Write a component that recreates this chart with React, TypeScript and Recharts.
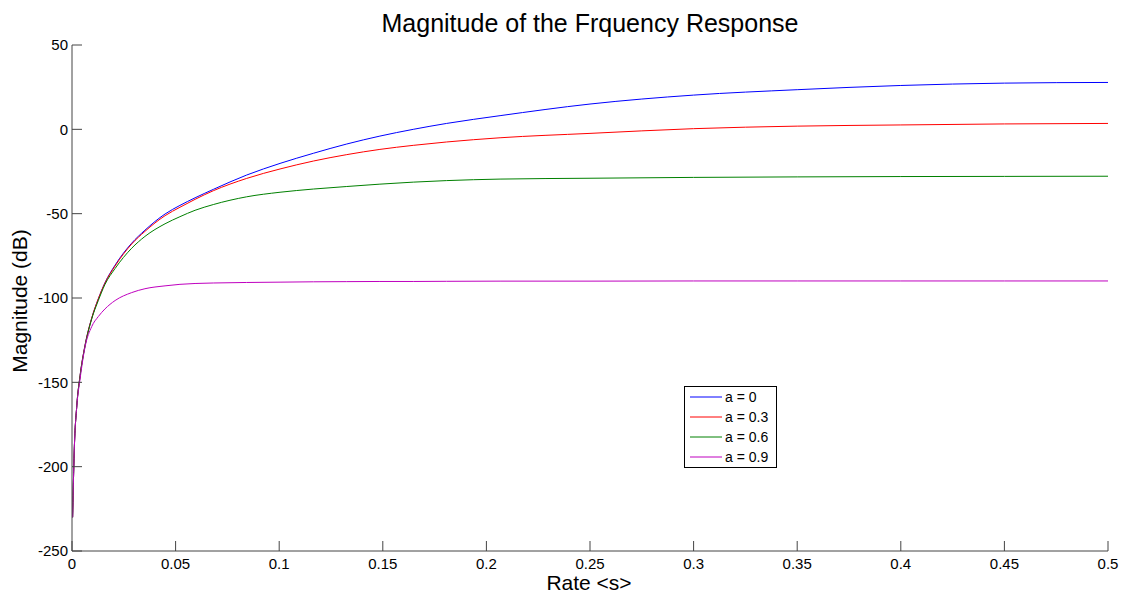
import { LineChart, Line, XAxis, YAxis, Legend } from "recharts";

const FONT = '"Liberation Sans", Arial, Helvetica, sans-serif';

// rate <s> samples
const rate = [
  0.0003, 0.0006, 0.0011, 0.0023, 0.0039, 0.0063, 0.0095, 0.0127, 0.0159, 0.0208,
  0.0288, 0.0352, 0.0449, 0.0521, 0.0594, 0.0682, 0.0843, 0.1004, 0.1165, 0.1326,
  0.1486, 0.1647, 0.1808, 0.2066, 0.25, 0.3, 0.35, 0.4, 0.45, 0.5,
];

// magnitude in dB for each a
const magA0 = [
  -230, -213, -190, -164, -146, -128, -112, -100.5, -91, -80.5,
  -67.5, -59.8, -50.2, -45.1, -40.6, -35.6, -27.1, -20.2, -14.2, -8.7,
  -4, 0, 3.5, 8.1, 15.0, 20.3, 23.5, 26.0, 27.4, 27.8,
];
const magA3 = [
  -230, -213, -190, -164, -146, -128, -112, -100.5, -91.2, -81,
  -68, -60.5, -51.2, -46.2, -41.5, -36.4, -29.1, -23.5, -18.8, -15,
  -11.9, -9.5, -7.5, -5, -2.4, 0.4, 1.9, 2.6, 3.2, 3.5,
];
const magA6 = [
  -230, -213, -190, -164, -146.5, -128.5, -112.5, -101.5, -92, -82.5,
  -70.5, -63.5, -56, -51.8, -48, -44.6, -40, -37.3, -35.4, -33.9,
  -32.5, -31.3, -30.4, -29.5, -29, -28.5, -28.2, -28, -27.9, -27.8,
];
const magA9 = [
  -230, -213, -190, -164.5, -148, -129, -117, -111, -106.5, -101.5,
  -96.8, -94.5, -92.8, -91.9, -91.4, -91.1, -90.8, -90.6, -90.4, -90.3,
  -90.2, -90.2, -90.1, -90, -90, -89.9, -89.9, -89.9, -89.9, -89.9,
];

const seriesNames = ["a = 0", "a = 0.3", "a = 0.6", "a = 0.9"];
const seriesColors = ["#0000ff", "#ff0000", "#008000", "#bf00bf"];
const seriesKeys = ["a0", "a3", "a6", "a9"];

const xTicks = [0, 0.05, 0.1, 0.15, 0.2, 0.25, 0.3, 0.35, 0.4, 0.45, 0.5];
const yTicks = [-250, -200, -150, -100, -50, 0, 50];

const data = rate.map((r, i) => ({
  rate: r,
  a0: magA0[i],
  a3: magA3[i],
  a6: magA6[i],
  a9: magA9[i],
}));

const AXIS = "#444";

function YTick(props: any) {
  const { x, y, payload } = props;
  return (
    <g>
      <line x1={x} x2={x + 10} y1={y} y2={y} stroke={AXIS} />
      <text x={x - 4} y={y} dy="0.35em" textAnchor="end" fontSize={15} fontFamily={FONT} fill="#000">
        {payload.value}
      </text>
    </g>
  );
}

function XTick(props: any) {
  const { x, y, payload } = props;
  return (
    <g>
      <line x1={x} x2={x} y1={y} y2={y - 10} stroke={AXIS} />
      <text x={x} y={y + 18} textAnchor="middle" fontSize={15} fontFamily={FONT} fill="#000">
        {String(payload.value)}
      </text>
    </g>
  );
}

// legend drawn from the series arrays so colours stay in step with the lines
function LegendBox() {
  return (
    <svg width={93} height={82} style={{ display: "block" }}>
      <rect x={0.5} y={0.5} width={92} height={81} fill="#fff" stroke="#000" />
      {seriesNames.map((name, i) => {
        const cy = 11 + i * 20;
        return (
          <g key={name}>
            <line x1={6} x2={38} y1={cy} y2={cy} stroke={seriesColors[i]} strokeWidth={1} />
            <text x={41} y={cy} dy="0.35em" fontSize={14} fontFamily={FONT} fill="#000">
              {name}
            </text>
          </g>
        );
      })}
    </svg>
  );
}

export default function App() {
  return (
    <div style={{ position: "absolute", left: 0, top: 0, width: 1129, height: 595, background: "#fff" }}>
      <LineChart width={1129} height={595} data={data} margin={{ top: 45, right: 21, bottom: 0, left: 0 }}>
        <XAxis
          dataKey="rate"
          type="number"
          domain={[0, 0.5]}
          ticks={xTicks}
          interval={0}
          height={44}
          tickSize={0}
          tickMargin={0}
          tickLine={false}
          axisLine={{ stroke: AXIS }}
          tick={(p: any) => <XTick {...p} />}
        />
        <YAxis
          type="number"
          domain={[-250, 50]}
          ticks={yTicks}
          interval={0}
          width={72}
          tickSize={0}
          tickMargin={0}
          tickLine={false}
          axisLine={{ stroke: AXIS }}
          tick={(p: any) => <YTick {...p} />}
        />
        {seriesKeys.map((k, i) => (
          <Line
            key={k}
            dataKey={k}
            name={seriesNames[i]}
            type="monotone"
            stroke={seriesColors[i]}
            strokeWidth={1}
            dot={false}
            activeDot={false}
            isAnimationActive={false}
          />
        ))}
        <Legend
          layout="horizontal"
          align="center"
          verticalAlign="middle"
          content={() => <LegendBox />}
          wrapperStyle={{ left: 684, top: 386, width: 93, height: 82 }}
        />
      </LineChart>
      <svg
        width={1129}
        height={595}
        style={{ position: "absolute", left: 0, top: 0, pointerEvents: "none" }}
      >
        <text x={590} y={32} textAnchor="middle" fontSize={25} fontFamily={FONT} fill="#000">
          Magnitude of the Frquency Response
        </text>
        <text x={589} y={590} textAnchor="middle" fontSize={21} fontFamily={FONT} fill="#000">
          Rate &lt;s&gt;
        </text>
        <text
          transform="translate(27,301) rotate(-90)"
          textAnchor="middle"
          fontSize={21}
          fontFamily={FONT}
          fill="#000"
        >
          Magnitude (dB)
        </text>
      </svg>
    </div>
  );
}
